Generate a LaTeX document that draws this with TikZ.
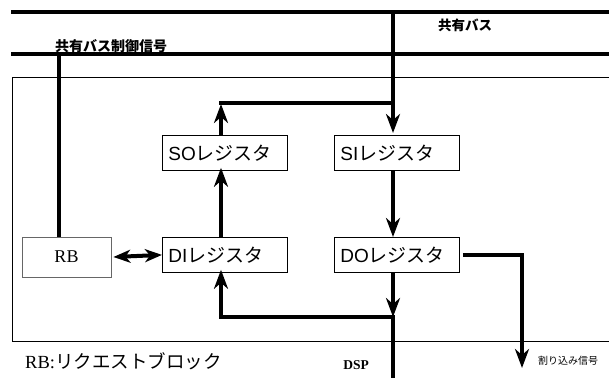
\documentclass[tikz,border=0pt]{standalone}
\usepackage{fontspec}
\setmainfont{Liberation Serif}
\newfontfamily\jp{Noto Sans CJK JP}
\newfontfamily\ar{Liberation Sans}
\usetikzlibrary{arrows.meta}
\begin{document}
\begin{tikzpicture}[x=1pt,y=-1pt,
  bus/.style={line width=3.5pt},
  wire/.style={line width=4pt},
  arr/.style={line width=4pt,-{Stealth[length=19pt,width=14pt,inset=6pt]}},
  darr/.style={line width=4pt,{Stealth[length=17pt,width=13pt,inset=5pt]}-{Stealth[length=17pt,width=13pt,inset=5pt]}},
  reg/.style={draw,line width=0.8pt,text width=113pt,inner sep=6pt,minimum height=35pt,
    align=left,anchor=north west,font=\jp\fontsize{19}{21}\selectfont},
  lbl/.style={inner sep=0pt}
]
\useasboundingbox (0,0) rectangle (609,378);
% coordinates
\coordinate (tl) at (11,12);
\coordinate (tr) at (609,12);
\coordinate (cl) at (11,54);
\coordinate (cr) at (609,54);
\coordinate (bt) at (393,12);
\coordinate (rbtop) at (59,54);
\coordinate (j1) at (393,103);
\coordinate (c1) at (221,103);
\coordinate (j2) at (393,317);
\coordinate (c2) at (221,317);
\coordinate (dsp) at (393,378);
\coordinate (ir2) at (522,368);
\coordinate (o1) at (609,77);
\coordinate (o2) at (12,77);
\coordinate (o3) at (12,341);
\coordinate (o4) at (609,341);
% nodes
\node[reg] (so) at (162,135) {{\ar SO}レジスタ};
\node[reg] (si) at (334,135) {{\ar SI}レジスタ};
\node[reg] (di) at (162,237) {{\ar DI}レジスタ};
\node[reg] (do) at (334,237) {{\ar DO}レジスタ};
\node[draw=black!60,line width=0.8pt,minimum width=89pt,minimum height=40pt,
  font=\fontsize{18}{20}\selectfont] (rb) at (66.5,257) {RB};
\node[lbl,font=\jp\bfseries\fontsize{13.5}{15}\selectfont] (busl) at (465,25) {共有バス};
\node[lbl,anchor=west,font=\jp\bfseries\fontsize{14}{16}\selectfont] (ctl) at (55,46) {共有バス制御信号};
\node[lbl,anchor=west,font=\fontsize{18.5}{20}\selectfont] (leg) at (25,361) {RB:{\jp リクエストブロック}};
\node[lbl,font=\bfseries\fontsize{13.5}{15}\selectfont] (dspl) at (356,365) {DSP};
\node[lbl,anchor=west,font=\jp\fontsize{10}{12}\selectfont] (irl) at (538,361) {割り込み信号};
% buses and frame
\draw[bus] (tl) -- (tr);
\draw[bus] (cl) -- (cr);
\draw[line width=0.8pt] (o1) -- (o2) -- (o3) -- (o4);
% connectors
\draw[wire] (rbtop) -- (rbtop |- rb.north);
\draw[arr] (bt) -- ([yshift=2pt]bt |- si.north);
\draw[wire,line cap=rect] (c1) -- (j1);
\draw[arr] (c1 |- so.north) -- ([yshift=-1pt]c1);
\draw[arr] (c1 |- di.north) -- ([yshift=3pt]c1 |- so.south);
\draw[arr] (bt |- si.south) -- (bt |- do.north);
\draw[arr] (bt |- do.south) -- (j2);
\draw[wire] (j2) -- (dsp);
\draw[wire,line cap=rect] (j2) -- (c2);
\draw[arr] (c2) -- ([yshift=3pt]c2 |- di.south);
\draw[darr] ([xshift=2pt]rb.east) -- (di.west);
\draw[arr] ([xshift=3pt]do.east) -- (do.east -| ir2) -- (ir2);
\end{tikzpicture}
\end{document}
